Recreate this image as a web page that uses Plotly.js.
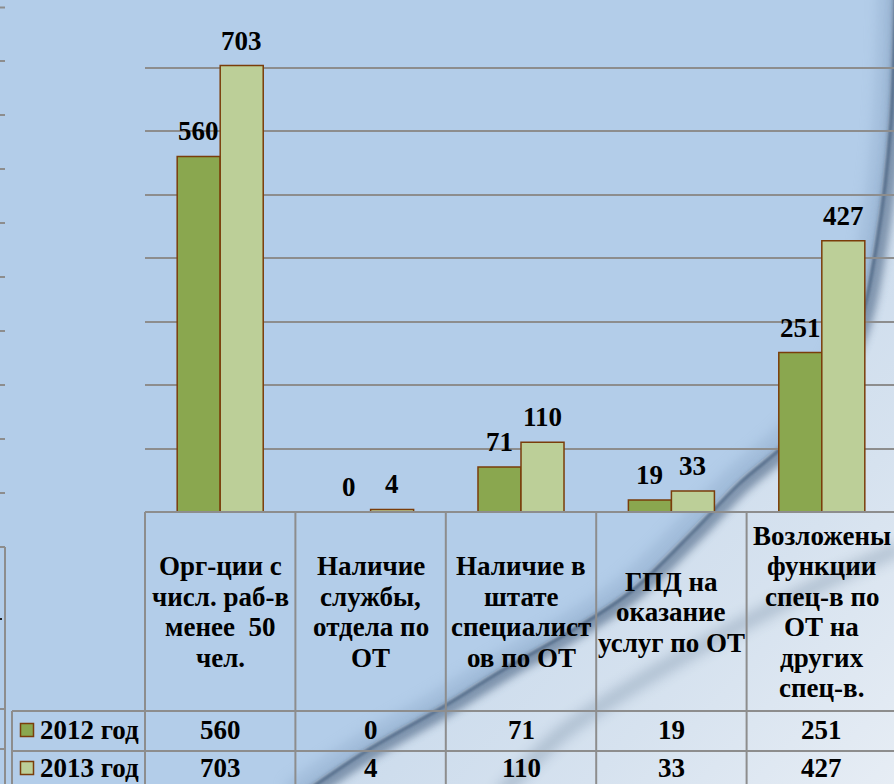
<!DOCTYPE html>
<html><head><meta charset="utf-8">
<script src="https://cdn.plot.ly/plotly-3.0.1.min.js"></script>
<style>html,body{margin:0;padding:0;background:#b3cde9}
#chart{width:894px;height:784px;background-repeat:no-repeat;background-size:894px 784px}</style>
</head><body><div id="chart"></div>
<script>
// ---- data ----
const categories = [
  "Орг-ции с<br>числ. раб-в<br>менее  50<br>чел.",
  "Наличие<br>службы,<br>отдела по<br>ОТ",
  "Наличие в<br>штате<br>специалист<br>ов по ОТ",
  "ГПД на<br>оказание<br>услуг по ОТ",
  "Возложены<br>функции<br>спец-в по<br>ОТ на<br>других<br>спец-в."
];
const seriesNames = ["2012 год", "2013 год"];
const values2012 = [560, 0, 71, 19, 251];
const values2013 = [703, 4, 110, 33, 427];
const yMax = 800;
const yStep = 100;

// ---- styling / geometry ----
const W = 894, H = 784, L = 145, T = 4, B = 272;
const plotW = W - L, plotH = H - T - B;
const xr = [-0.5, 4.48];
const bargap = 0.428;
const colors = ["#8aa74f", "#bccf98"];
const edge = "#7a3d0a";
const gridC = "#8d8d8d";
const FONT = "Liberation Serif, serif";
const px2x = p => (p - L) / plotW;
const py2y = p => (H - B - p) / plotH;
const catPx = i => L + (i - xr[0]) / (xr[1] - xr[0]) * plotW;

const traces = [values2012, values2013].map((vals, s) => ({
  type: "bar",
  name: seriesNames[s],
  x: categories,
  y: vals,
  marker: {color: colors[s], line: {color: edge, width: 1.5}},
  hoverinfo: "none"
}));

const annotations = [];
const shapes = [];
const txtFont = () => ({family: FONT, size: 27, color: "#000"});

// data labels above bars
const half = (1 - bargap) / 4;
[values2012, values2013].forEach((vals, s) => {
  vals.forEach((v, i) => {
    annotations.push({
      x: i + (s === 0 ? -half : half), y: v, xref: "x", yref: "y",
      text: "<b>" + v + "</b>", showarrow: false, yanchor: "bottom", yshift: 8,
      font: txtFont()
    });
  });
});

// table header text (category labels), one annotation per line
const headerTop = 512, headerBot = 711, row1Bot = 751, row2Bot = 792;
const headerMid = 612, lineGap = 30.5;
categories.forEach((c, i) => {
  const lines = c.split("<br>");
  const n = lines.length;
  lines.forEach((ln, k) => {
    annotations.push({
      x: i, xref: "x", yref: "paper", y: py2y(headerMid + (k - (n - 1) / 2) * lineGap),
      text: "<b>" + ln.replace(/  /g, "&nbsp; ") + "</b>", showarrow: false, yanchor: "middle",
      font: txtFont()
    });
  });
});

// table value rows + legend keys
const rowMids = [730, 768];
[values2012, values2013].forEach((vals, s) => {
  vals.forEach((v, i) => {
    annotations.push({
      x: i, xref: "x", yref: "paper", y: py2y(rowMids[s]),
      text: "<b>" + v + "</b>", showarrow: false, yanchor: "middle",
      font: txtFont()
    });
  });
  shapes.push({type: "rect", xref: "paper", yref: "paper",
    x0: px2x(20.5), x1: px2x(33.5), y0: py2y(rowMids[s] - 6.5), y1: py2y(rowMids[s] + 6.5),
    fillcolor: colors[s], line: {color: edge, width: 1.5}});
  annotations.push({
    x: px2x(38), xref: "paper", yref: "paper", y: py2y(rowMids[s]), xanchor: "left",
    text: "<b>" + seriesNames[s] + "</b>", showarrow: false, yanchor: "middle",
    font: txtFont()
  });
});

// table grid lines
const line = (x0, y0, x1, y1, c) => shapes.push({type: "line", xref: "paper", yref: "paper",
  x0: px2x(x0), x1: px2x(x1), y0: py2y(y0), y1: py2y(y1), line: {color: c || gridC, width: 2}});
for (let i = 0; i <= categories.length; i++) {
  const xp = catPx(i - 0.5);
  line(xp, headerTop, xp, row2Bot);
}
line(L, headerTop, W, headerTop);
line(12, headerBot, W, headerBot);
line(12, row1Bot, W, row1Bot);
line(12, headerBot, 12, row2Bot);

// fragments of a neighbouring chart at the left edge
[7.5, 61, 115, 169, 223, 277, 331, 385, 439, 493].forEach(y => line(-2, y, 5, y));
line(-2, 547, 5, 547);
line(5, 547, 5, row2Bot);
line(-2, 709, 5, 709);
line(-2, 749, 5, 749);
line(-2, 619, 2, 619, "#222");

// page-curl background (decorative, CSS background of the chart div)
function crPath(pts) {
  let d = "M " + pts[0][0] + " " + pts[0][1];
  for (let i = 0; i < pts.length - 1; i++) {
    const p0 = pts[Math.max(i - 1, 0)], p1 = pts[i], p2 = pts[i + 1], p3 = pts[Math.min(i + 2, pts.length - 1)];
    const c1 = [p1[0] + (p2[0] - p0[0]) / 6, p1[1] + (p2[1] - p0[1]) / 6];
    const c2 = [p2[0] - (p3[0] - p1[0]) / 6, p2[1] - (p3[1] - p1[1]) / 6];
    d += ` C ${c1[0].toFixed(1)} ${c1[1].toFixed(1)}, ${c2[0].toFixed(1)} ${c2[1].toFixed(1)}, ${p2[0]} ${p2[1]}`;
  }
  return d;
}
const mainCurve = [[893, -20], [888, 120], [874, 240], [852, 335], [802, 422], [736, 482], [690, 530], [630, 588], [570, 628], [500, 668], [440, 705], [365, 748], [295, 795]];
const shift = (pts, dx, dy) => pts.map(p => [p[0] + dx, p[1] + dy]);
const secondCurve = [[900, 548], [823, 583], [720, 636], [633, 686], [560, 735], [500, 795]];
const svg = `<svg xmlns="http://www.w3.org/2000/svg" width="${W}" height="${H}" viewBox="0 0 ${W} ${H}">
<defs>
<linearGradient id="pg" x1="0.5" y1="0.4" x2="1" y2="1">
<stop offset="0" stop-color="#c6d8eb"/><stop offset="0.55" stop-color="#d6e2ef"/><stop offset="1" stop-color="#e8eef5"/></linearGradient>
<filter id="b1" x="-20%" y="-20%" width="140%" height="140%"><feGaussianBlur stdDeviation="4"/></filter>
<filter id="b2" x="-20%" y="-20%" width="140%" height="140%"><feGaussianBlur stdDeviation="7"/></filter>
<filter id="b0" x="-20%" y="-20%" width="140%" height="140%"><feGaussianBlur stdDeviation="1.5"/></filter>
</defs>
<rect width="${W}" height="${H}" fill="#b3cde9"/>
<path d="${crPath(mainCurve)} L 910 800 L 910 -20 Z" fill="url(#pg)"/>
<path d="${crPath(shift(mainCurve, -6, -4))}" fill="none" stroke="#8aa6c6" stroke-width="14" opacity="0.5" filter="url(#b2)"/>
<path d="${crPath(secondCurve)}" fill="none" stroke="#6f879f" stroke-width="12" opacity="0.45" filter="url(#b2)"/>
<path d="${crPath(shift(mainCurve, 7, 5))}" fill="none" stroke="#3f5a7a" stroke-width="12" opacity="0.6" filter="url(#b1)"/>
<path d="${crPath(shift(mainCurve, 3, 2))}" fill="none" stroke="#2f4a6a" stroke-width="3" opacity="0.7" filter="url(#b0)"/>
</svg>`;
document.getElementById("chart").style.backgroundImage =
  'url("data:image/svg+xml;charset=utf-8,' + encodeURIComponent(svg) + '")';

const layout = {
  width: W, height: H,
  margin: {l: L, r: 0, t: T, b: B, pad: 0},
  paper_bgcolor: "rgba(0,0,0,0)",
  plot_bgcolor: "rgba(0,0,0,0)",
  barmode: "group", bargap: bargap, bargroupgap: 0,
  showlegend: false,
  xaxis: {type: "category", range: xr, showticklabels: false, showgrid: false,
    zeroline: false, showline: false, ticks: "", fixedrange: true},
  yaxis: {range: [0, yMax], dtick: yStep, tick0: 0, showticklabels: false, showgrid: true,
    gridcolor: gridC, gridwidth: 2, zeroline: false, showline: false, ticks: "", fixedrange: true},
  annotations: annotations,
  shapes: shapes
};

Plotly.newPlot("chart", traces, layout, {displayModeBar: false, staticPlot: true});
</script>
</body></html>
